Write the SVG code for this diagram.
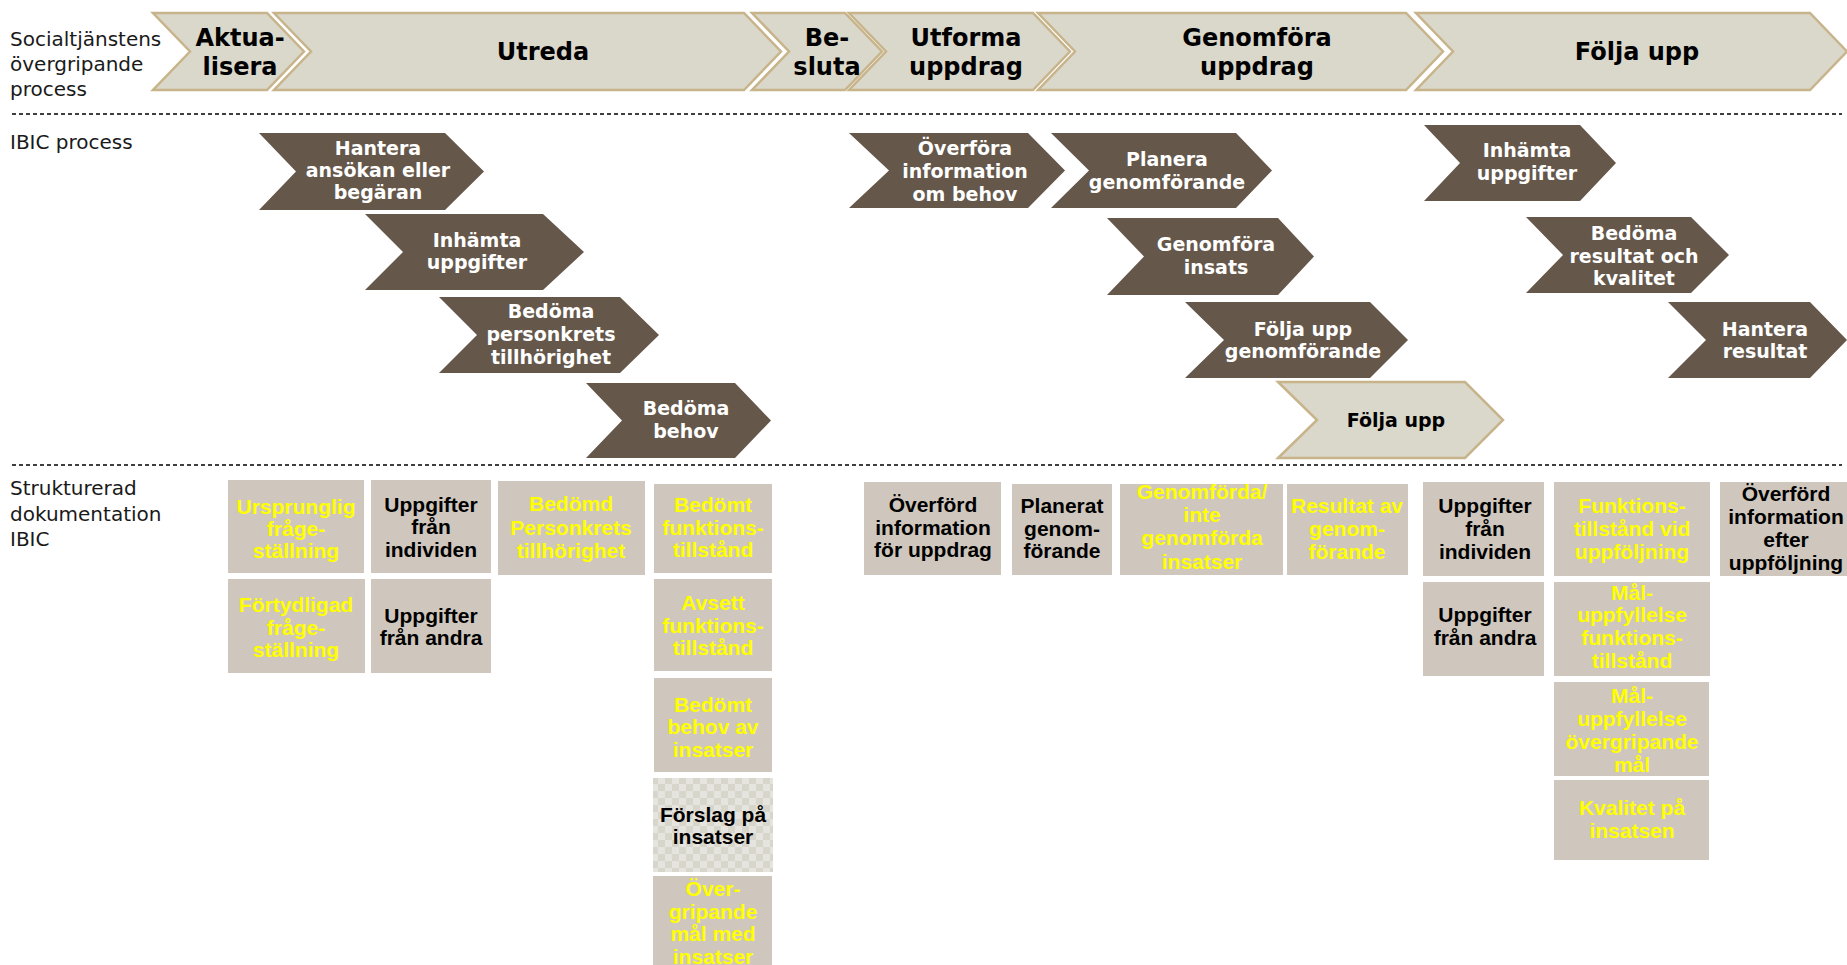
<svg xmlns="http://www.w3.org/2000/svg" width="1847" height="965" viewBox="0 0 1847 965">
<style>
.phase{fill:#DAD7CB;stroke:#C8B48A;stroke-width:2.5;stroke-linejoin:miter}
.ibic{fill:#65574A}
.box{fill:#CFC7BD}
.pt{font-family:"DejaVu Sans",sans-serif;font-weight:bold;font-size:24px;fill:#000;text-anchor:middle}
.lbl{font-family:"DejaVu Sans",sans-serif;font-size:20px;fill:#1a1a1a}
.it{font-family:"DejaVu Sans",sans-serif;font-weight:bold;font-size:19px;fill:#fff;text-anchor:middle}
.itb{font-family:"DejaVu Sans",sans-serif;font-weight:bold;font-size:19px;fill:#000;text-anchor:middle}
.bt{font-family:"Liberation Sans",Arial,sans-serif;font-weight:bold;font-size:21px;text-anchor:middle}
.y{fill:#FFFF00}
.k{fill:#000}
.dash{stroke:#000;stroke-width:1.3;stroke-dasharray:4 3;fill:none}
</style>
<defs>
<pattern id="checker" x="0" y="0" width="14" height="14" patternUnits="userSpaceOnUse">
<rect width="14" height="14" fill="#E6E4DE"/>
<rect width="7" height="7" fill="#D8D5CA"/>
<rect x="7" y="7" width="7" height="7" fill="#D8D5CA"/>
</pattern>
</defs>
<rect width="1847" height="965" fill="#fff"/>

<g id="labels">
<text class="lbl" x="10" y="46">Socialtjänstens</text>
<text class="lbl" x="10" y="71">övergripande</text>
<text class="lbl" x="10" y="96">process</text>
<text class="lbl" x="10" y="149">IBIC process</text>
<text class="lbl" x="10" y="495">Strukturerad</text>
<text class="lbl" x="10" y="521">dokumentation</text>
<text class="lbl" x="10" y="546">IBIC</text>
</g>

<g id="connectors">
<line class="dash" x1="12" y1="114" x2="1842" y2="114"/>
<line class="dash" x1="12" y1="465" x2="1842" y2="465"/>
</g>

<g id="phase-aktualisera">
<path class="phase" d="M153,13 H267 L304,51.5 L267,90 H153 L190,51.5 Z"/>
<text class="pt" x="240" y="46">Aktua-</text>
<text class="pt" x="240" y="75">lisera</text>
</g>
<g id="phase-utreda">
<path class="phase" d="M274,13 H744 L781,51.5 L744,90 H274 L311,51.5 Z"/>
<text class="pt" x="543" y="60">Utreda</text>
</g>
<g id="phase-besluta">
<path class="phase" d="M752,13 H845 L882,51.5 L845,90 H752 L789,51.5 Z"/>
<text class="pt" x="827" y="46">Be-</text>
<text class="pt" x="827" y="75">sluta</text>
</g>
<g id="phase-utforma">
<path class="phase" d="M849,13 H1033 L1070,51.5 L1033,90 H849 L886,51.5 Z"/>
<text class="pt" x="966" y="46">Utforma</text>
<text class="pt" x="966" y="75">uppdrag</text>
</g>
<g id="phase-genomfora">
<path class="phase" d="M1038,13 H1406 L1443,51.5 L1406,90 H1038 L1075,51.5 Z"/>
<text class="pt" x="1257" y="46">Genomföra</text>
<text class="pt" x="1257" y="75">uppdrag</text>
</g>
<g id="phase-folja-upp">
<path class="phase" d="M1416,13 H1810 L1847,51.5 L1810,90 H1416 L1453,51.5 Z"/>
<text class="pt" x="1637" y="60">Följa upp</text>
</g>

<g id="ibic-hantera-ansokan">
<path class="ibic" d="M259,133 H445 L484,171.5 L445,210 H259 L296,171.5 Z"/>
<text class="it" x="378" y="155">Hantera</text>
<text class="it" x="378" y="177">ansökan eller</text>
<text class="it" x="378" y="199">begäran</text>
</g>
<g id="ibic-inhamta-1">
<path class="ibic" d="M365,214 H543 L584,252 L543,290 H365 L403,252 Z"/>
<text class="it" x="477" y="247">Inhämta</text>
<text class="it" x="477" y="269">uppgifter</text>
</g>
<g id="ibic-bedoma-personkrets">
<path class="ibic" d="M439,297 H620 L659,335 L620,373 H439 L477,335 Z"/>
<text class="it" x="551" y="318">Bedöma</text>
<text class="it" x="551" y="341">personkrets</text>
<text class="it" x="551" y="364">tillhörighet</text>
</g>
<g id="ibic-bedoma-behov">
<path class="ibic" d="M586,383 H735 L771,420.5 L735,458 H586 L622,420.5 Z"/>
<text class="it" x="686" y="415">Bedöma</text>
<text class="it" x="686" y="438">behov</text>
</g>
<g id="ibic-overfora">
<path class="ibic" d="M849,133 H1028 L1065,170.5 L1028,208 H849 L889,170.5 Z"/>
<text class="it" x="965" y="155">Överföra</text>
<text class="it" x="965" y="178">information</text>
<text class="it" x="965" y="201">om behov</text>
</g>
<g id="ibic-planera">
<path class="ibic" d="M1051,133 H1236 L1272,170.5 L1236,208 H1051 L1089,170.5 Z"/>
<text class="it" x="1167" y="166">Planera</text>
<text class="it" x="1167" y="189">genomförande</text>
</g>
<g id="ibic-genomfora-insats">
<path class="ibic" d="M1107,218 H1278 L1314,256.5 L1278,295 H1107 L1144,256.5 Z"/>
<text class="it" x="1216" y="251">Genomföra</text>
<text class="it" x="1216" y="274">insats</text>
</g>
<g id="ibic-folja-upp-genomforande">
<path class="ibic" d="M1185,302 H1370 L1408,340 L1370,378 H1185 L1224,340 Z"/>
<text class="it" x="1303" y="336">Följa upp</text>
<text class="it" x="1303" y="358">genomförande</text>
</g>
<g id="ibic-folja-upp">
<path class="phase" d="M1278,382 H1465 L1503,420 L1465,458 H1278 L1317,420 Z"/>
<text class="itb" x="1396" y="427">Följa upp</text>
</g>
<g id="ibic-inhamta-2">
<path class="ibic" d="M1424,125 H1580 L1616,163 L1580,201 H1424 L1460,163 Z"/>
<text class="it" x="1527" y="157">Inhämta</text>
<text class="it" x="1527" y="180">uppgifter</text>
</g>
<g id="ibic-bedoma-resultat">
<path class="ibic" d="M1526,217 H1691 L1729,255 L1691,293 H1526 L1563,255 Z"/>
<text class="it" x="1634" y="240">Bedöma</text>
<text class="it" x="1634" y="263">resultat och</text>
<text class="it" x="1634" y="285">kvalitet</text>
</g>
<g id="ibic-hantera-resultat">
<path class="ibic" d="M1668,302 H1810 L1847,340 L1810,378 H1668 L1706,340 Z"/>
<text class="it" x="1765" y="336">Hantera</text>
<text class="it" x="1765" y="358">resultat</text>
</g>

<g id="doc-ursprunglig">
<rect class="box" x="228" y="480" width="136" height="93"/>
<text class="bt y" x="296" y="514">Ursprunglig</text>
<text class="bt y" x="296" y="536">fråge-</text>
<text class="bt y" x="296" y="558">ställning</text>
</g>
<g id="doc-fortydligad">
<rect class="box" x="228" y="579" width="137" height="94"/>
<text class="bt y" x="296" y="612">Förtydligad</text>
<text class="bt y" x="296" y="635">fråge-</text>
<text class="bt y" x="296" y="657">ställning</text>
</g>
<g id="doc-uppgifter-individen-1">
<rect class="box" x="371" y="480" width="120" height="93"/>
<text class="bt k" x="431" y="512">Uppgifter</text>
<text class="bt k" x="431" y="534">från</text>
<text class="bt k" x="431" y="557">individen</text>
</g>
<g id="doc-uppgifter-andra-1">
<rect class="box" x="371" y="579" width="120" height="94"/>
<text class="bt k" x="431" y="623">Uppgifter</text>
<text class="bt k" x="431" y="645">från andra</text>
</g>
<g id="doc-bedomd-personkrets">
<rect class="box" x="498" y="481" width="147" height="94"/>
<text class="bt y" x="571" y="511">Bedömd</text>
<text class="bt y" x="571" y="535">Personkrets</text>
<text class="bt y" x="571" y="558">tillhörighet</text>
</g>
<g id="doc-bedomt-funktionstillstand">
<rect class="box" x="654" y="484" width="118" height="89"/>
<text class="bt y" x="713" y="512">Bedömt</text>
<text class="bt y" x="713" y="535">funktions-</text>
<text class="bt y" x="713" y="557">tillstånd</text>
</g>
<g id="doc-avsett-funktionstillstand">
<rect class="box" x="654" y="579" width="118" height="92"/>
<text class="bt y" x="713" y="610">Avsett</text>
<text class="bt y" x="713" y="633">funktions-</text>
<text class="bt y" x="713" y="655">tillstånd</text>
</g>
<g id="doc-bedomt-behov">
<rect class="box" x="654" y="678" width="118" height="94"/>
<text class="bt y" x="713" y="712">Bedömt</text>
<text class="bt y" x="713" y="734">behov av</text>
<text class="bt y" x="713" y="757">insatser</text>
</g>
<g id="doc-forslag">
<rect x="653" y="778" width="120" height="94" fill="url(#checker)"/>
<text class="bt k" x="713" y="822">Förslag på</text>
<text class="bt k" x="713" y="844">insatser</text>
</g>
<g id="doc-overgripande-mal">
<rect class="box" x="653" y="876" width="119" height="95"/>
<text class="bt y" x="713" y="896">Över-</text>
<text class="bt y" x="713" y="919">gripande</text>
<text class="bt y" x="713" y="941">mål med</text>
<text class="bt y" x="713" y="964">insatser</text>
</g>

<g id="doc-overford-uppdrag">
<rect class="box" x="864" y="482" width="137" height="93"/>
<text class="bt k" x="933" y="512">Överförd</text>
<text class="bt k" x="933" y="535">information</text>
<text class="bt k" x="933" y="557">för uppdrag</text>
</g>
<g id="doc-planerat">
<rect class="box" x="1012" y="484" width="100" height="91"/>
<text class="bt k" x="1062" y="513">Planerat</text>
<text class="bt k" x="1062" y="536">genom-</text>
<text class="bt k" x="1062" y="558">förande</text>
</g>
<g id="doc-genomforda">
<rect class="box" x="1120" y="484" width="163" height="91"/>
<text class="bt y" x="1202" y="499">Genomförda/</text>
<text class="bt y" x="1202" y="522">inte</text>
<text class="bt y" x="1202" y="545">genomförda</text>
<text class="bt y" x="1202" y="569">insatser</text>
</g>
<g id="doc-resultat">
<rect class="box" x="1287" y="484" width="121" height="91"/>
<text class="bt y" x="1347" y="513">Resultat av</text>
<text class="bt y" x="1347" y="536">genom-</text>
<text class="bt y" x="1347" y="559">förande</text>
</g>
<g id="doc-uppgifter-individen-2">
<rect class="box" x="1423" y="482" width="121" height="94"/>
<text class="bt k" x="1485" y="513">Uppgifter</text>
<text class="bt k" x="1485" y="536">från</text>
<text class="bt k" x="1485" y="559">individen</text>
</g>
<g id="doc-uppgifter-andra-2">
<rect class="box" x="1423" y="582" width="121" height="94"/>
<text class="bt k" x="1485" y="622">Uppgifter</text>
<text class="bt k" x="1485" y="645">från andra</text>
</g>
<g id="doc-funktionstillstand-uppfoljning">
<rect class="box" x="1554" y="482" width="156" height="94"/>
<text class="bt y" x="1632" y="513">Funktions-</text>
<text class="bt y" x="1632" y="536">tillstånd vid</text>
<text class="bt y" x="1632" y="559">uppföljning</text>
</g>
<g id="doc-maluppfyllelse-funktion">
<rect class="box" x="1554" y="582" width="156" height="94"/>
<text class="bt y" x="1632" y="600">Mål-</text>
<text class="bt y" x="1632" y="622">uppfyllelse</text>
<text class="bt y" x="1632" y="645">funktions-</text>
<text class="bt y" x="1632" y="668">tillstånd</text>
</g>
<g id="doc-maluppfyllelse-overgripande">
<rect class="box" x="1554" y="682" width="155" height="94"/>
<text class="bt y" x="1632" y="703">Mål-</text>
<text class="bt y" x="1632" y="726">uppfyllelse</text>
<text class="bt y" x="1632" y="749">övergripande</text>
<text class="bt y" x="1632" y="772">mål</text>
</g>
<g id="doc-kvalitet">
<rect class="box" x="1554" y="780" width="155" height="80"/>
<text class="bt y" x="1632" y="815">Kvalitet på</text>
<text class="bt y" x="1632" y="838">insatsen</text>
</g>
<g id="doc-overford-efter">
<rect class="box" x="1720" y="482" width="127" height="94"/>
<text class="bt k" x="1786" y="501">Överförd</text>
<text class="bt k" x="1786" y="524">information</text>
<text class="bt k" x="1786" y="547">efter</text>
<text class="bt k" x="1786" y="570">uppföljning</text>
</g>
</svg>
